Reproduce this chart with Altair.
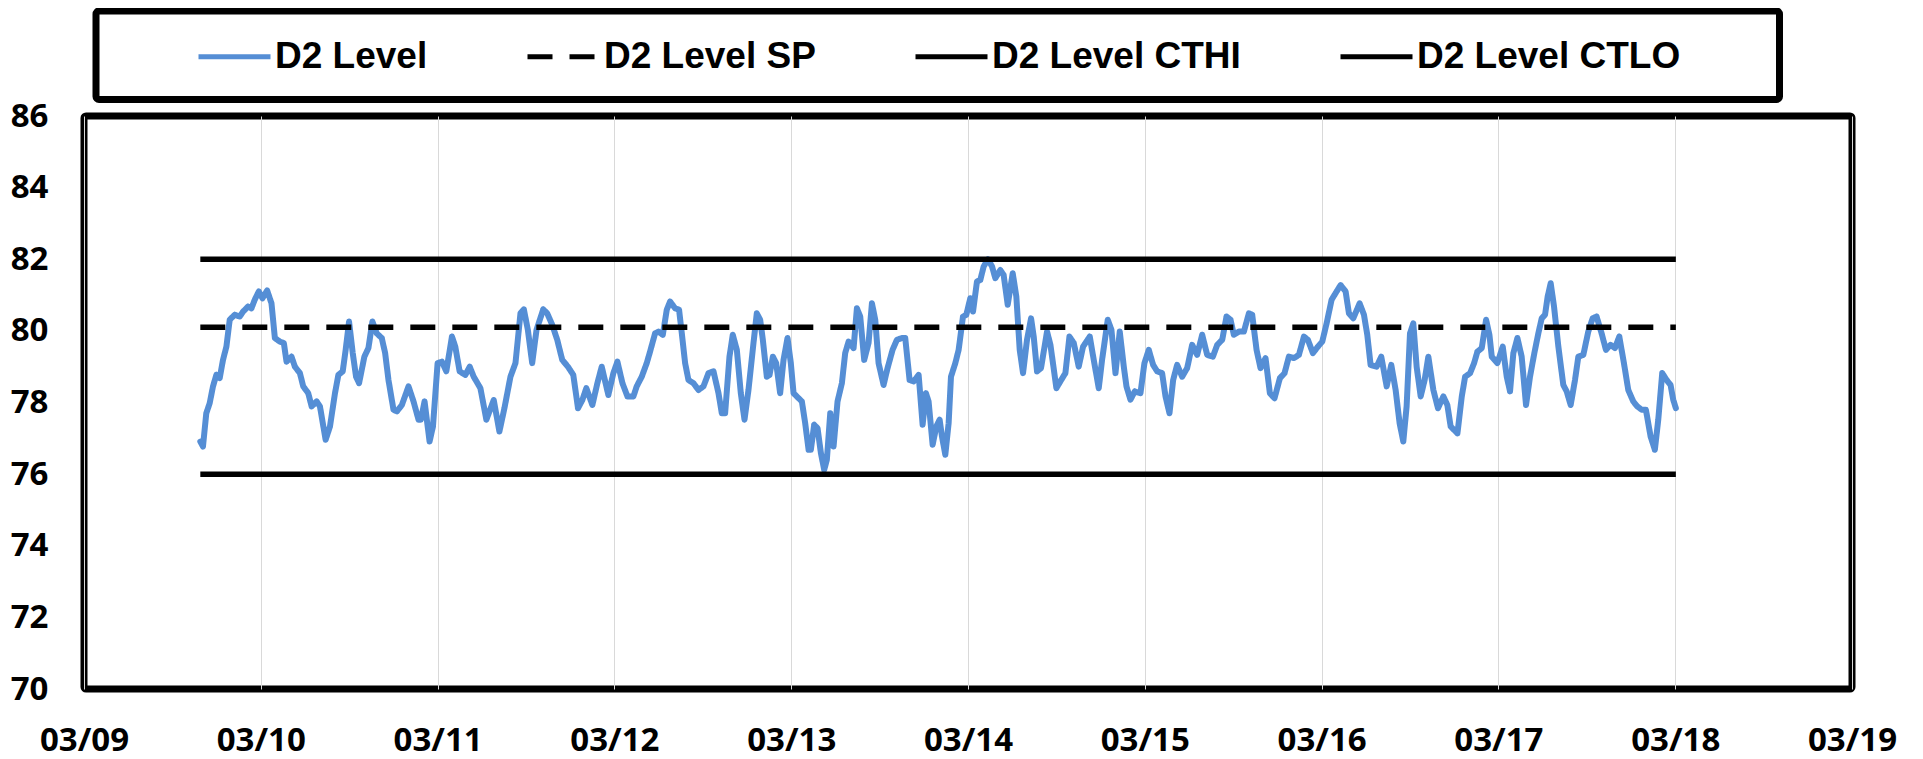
import altair as alt
import pandas as pd

# ---- data (hours after 03/09 00:00, level) ----
h_day1 = [15.79, 16.15, 16.60, 17.06, 17.51, 17.97, 18.42, 18.87, 19.33, 19.78, 20.46, 21.14, 21.60,
          22.28, 22.73, 23.18, 23.73, 24.23, 24.86, 25.45, 25.91, 26.59, 27.13, 27.49, 28.17, 28.63,
          29.31, 29.76, 30.44, 30.90, 31.58, 32.03, 32.80, 33.39, 34.07, 34.53, 35.12, 35.52, 35.98,
          36.48, 36.93, 37.34, 38.06, 38.61, 39.15, 39.74, 40.42, 40.88, 41.33, 42.01, 42.47, 43.15,
          44.05, 44.73, 45.41, 45.73, 46.23, 46.91, 47.37]
v_day1 = [76.91, 76.77, 77.70, 77.98, 78.45, 78.77, 78.68, 79.19, 79.56, 80.31, 80.45, 80.40, 80.54,
          80.68, 80.63, 80.87, 81.10, 80.91, 81.13, 80.77, 79.80, 79.70, 79.66, 79.14, 79.28, 79.00,
          78.82, 78.45, 78.26, 77.89, 78.03, 77.89, 76.96, 77.33, 78.26, 78.77, 78.87, 79.47, 80.26,
          79.38, 78.72, 78.54, 79.28, 79.52, 80.26, 79.93, 79.80, 79.38, 78.63, 77.80, 77.75, 77.93,
          78.45, 78.03, 77.52, 77.52, 78.03, 76.91, 77.33]

h_day2 = [48.00, 48.59, 49.18, 49.95, 50.40, 50.99, 51.77, 52.36, 52.90, 53.81, 54.62, 55.62, 56.39,
          57.07, 57.89, 58.57, 59.25, 59.71, 60.25, 60.84, 61.43, 62.34, 62.88, 63.56, 64.24, 64.92,
          65.69, 66.42, 67.06, 67.65, 68.19, 69.01, 69.69, 70.28, 71.18, 71.86, 72.41, 73.09, 73.77]
v_day2 = [79.10, 79.14, 78.87, 79.84, 79.56, 78.87, 78.77, 79.00, 78.72, 78.40, 77.52, 78.07, 77.19,
          77.84, 78.72, 79.10, 80.49, 80.60, 80.03, 79.10, 80.03, 80.60, 80.49, 80.17, 79.75, 79.19,
          79.00, 78.77, 77.84, 78.07, 78.40, 77.93, 78.54, 79.00, 78.21, 78.82, 79.14, 78.54, 78.17]

h_day3 = [74.58, 75.03, 75.71, 76.39, 76.84, 77.52, 77.98, 78.57, 79.11, 79.56, 80.24, 80.78, 81.15,
          81.60, 82.05, 82.73, 83.41, 84.09, 84.77, 85.45, 86.13, 86.58, 87.03, 87.62, 88.07, 88.62,
          89.16, 89.66, 90.20, 90.88, 91.33, 91.79, 92.15, 92.69, 93.06, 93.51, 93.96, 94.50, 94.96,
          95.50, 95.95, 96.32, 97.00, 97.45, 97.90, 98.36, 98.67, 99.12, 99.58, 100.03, 100.48,
          100.84, 101.30, 101.75, 102.29, 102.88, 103.33, 103.79, 104.47, 104.92, 105.37, 105.91,
          106.50, 106.96, 107.41, 107.86, 108.54, 109.08, 109.76, 110.35, 111.03, 111.48, 112.07,
          112.62, 113.30, 113.84, 114.29, 114.65, 115.20, 115.70, 116.15, 116.47, 116.92, 117.37,
          117.69, 118.28, 118.73, 119.32, 119.77]
v_day3 = [78.17, 78.45, 78.72, 79.10, 79.42, 79.93, 79.98, 79.89, 80.59, 80.82, 80.63, 80.59, 79.93,
          79.10, 78.63, 78.54, 78.35, 78.45, 78.82, 78.87, 78.26, 77.70, 77.70, 79.28, 79.89, 79.47,
          78.26, 77.52, 78.35, 79.66, 80.49, 80.31, 79.75, 78.72, 78.77, 79.28, 79.10, 78.26, 79.19,
          79.80, 79.10, 78.26, 78.12, 78.03, 77.42, 76.68, 76.68, 77.38, 77.28, 76.59, 76.12,
          76.40, 77.70, 76.77, 78.03, 78.54, 79.38, 79.70, 79.52, 80.63, 80.40, 79.19,
          79.66, 80.77, 80.31, 79.10, 78.49, 78.96, 79.47, 79.75, 79.80, 79.80, 78.63,
          78.59, 78.77, 77.38, 78.26, 78.03, 76.82, 77.33, 77.52, 77.05, 76.54, 77.42,
          78.72, 79.10, 79.47, 80.40, 80.45]

h_day4 = [120.31, 120.68, 121.22, 121.67, 122.13, 122.71, 123.26, 123.71, 124.39, 124.84, 125.39,
          126.07, 126.56, 127.02, 127.47, 128.01, 128.56, 128.92, 129.37, 129.91, 130.73, 131.19,
          132.00, 132.54, 133.22, 133.77, 134.36, 135.03, 135.62, 136.53, 137.07, 137.75, 138.20,
          138.97, 139.47, 140.02, 140.60, 141.15, 141.51, 142.05, 142.64, 143.41, 143.95]
v_day4 = [80.91, 80.54, 81.38, 81.42, 81.80, 82.00, 81.80, 81.47, 81.70, 81.56, 80.73,
          81.61, 80.96, 79.47, 78.82, 79.75, 80.35, 79.84, 78.87, 78.96, 79.98, 79.61,
          78.40, 78.59, 78.82, 79.84, 79.66, 79.00, 79.56, 79.84, 79.19, 78.40, 79.19,
          80.31, 80.03, 78.82, 79.98, 79.00, 78.45, 78.08, 78.31, 78.26, 79.10]

h_day5 = [144.54, 145.13, 145.68, 146.35, 146.81, 147.35, 147.85, 148.39, 149.07, 149.75, 150.43,
          151.11, 151.79, 152.47, 153.24, 153.83, 154.51, 155.09, 155.64, 156.09, 156.77, 157.45,
          158.13, 158.58, 159.17, 159.71, 160.39, 160.98, 161.61, 162.34, 162.97, 163.56, 164.24,
          164.92, 165.60, 166.14, 166.82, 167.50, 168.09, 168.68, 169.36, 170.04, 170.58, 171.26,
          171.71, 172.30, 173.16, 173.75, 174.20, 174.65, 175.47, 176.10, 176.83, 177.46, 178.05,
          178.59, 179.09, 179.54, 180.00, 180.45, 180.90, 181.45, 181.99, 182.49, 183.17, 183.80,
          184.53, 185.07, 185.52]
v_day5 = [79.47, 79.05, 78.87, 78.82, 78.17, 77.70, 78.63, 79.05, 78.72, 78.96, 79.61,
          79.33, 79.89, 79.33, 79.28, 79.61, 79.75, 80.40, 80.31, 79.89, 79.98, 79.98,
          80.49, 80.45, 79.47, 78.96, 79.24, 78.26, 78.12, 78.68, 78.82, 79.28, 79.24,
          79.33, 79.84, 79.75, 79.38, 79.56, 79.70, 80.21, 80.87, 81.10, 81.28, 81.10,
          80.49, 80.35, 80.77, 80.45, 79.89, 79.05, 79.00, 79.28, 78.45, 79.05, 78.35,
          77.42, 76.91, 77.89, 79.93, 80.21, 79.00, 78.17, 78.63, 79.28, 78.35, 77.84,
          78.17, 77.93, 77.33]

h_day6 = [186.44, 187.03, 187.48, 188.16, 188.70, 189.15, 189.74, 190.33, 190.78, 191.10, 191.86,
          192.59, 193.13, 193.58, 194.03, 194.58, 195.16, 195.75, 196.29, 196.88, 197.42, 197.88,
          198.33, 198.69, 199.10, 199.55, 200.14, 200.81, 201.27, 201.81, 202.40, 202.85, 203.53,
          204.20, 204.79, 205.33, 206.01, 206.60, 207.23, 207.82, 208.41, 209.04, 209.63, 210.31,
          210.85, 211.44, 212.02, 212.66, 213.24, 213.70, 214.24, 214.83, 215.37, 215.73, 216.09]
v_day6 = [77.14, 78.17, 78.72, 78.82, 79.10, 79.42, 79.52, 80.31, 79.89, 79.28, 79.10,
          79.56, 78.72, 78.31, 79.38, 79.80, 79.28, 77.93, 78.72, 79.38, 79.93, 80.35,
          80.45, 80.96, 81.33, 80.68, 79.56, 78.49, 78.31, 77.93, 78.63, 79.28, 79.33,
          79.98, 80.35, 80.40, 79.93, 79.47, 79.61, 79.52, 79.84, 79.10, 78.35, 78.03,
          77.89, 77.80, 77.80, 77.05, 76.68, 77.52, 78.82, 78.63, 78.49, 78.08, 77.84]

SP = 80.1
CTHI = 82.0
CTLO = 76.0

series_names = ["D2 Level", "D2 Level SP", "D2 Level CTHI", "D2 Level CTLO"]
series_colors = ["#558ED5", "#000000", "#000000", "#000000"]
series_dash = [[1, 0], [25, 17], [1, 0], [1, 0]]
y_ticks = [70, 72, 74, 76, 78, 80, 82, 84, 86]
day_ticks = list(range(9, 20))

# ---- tables ----
base = pd.Timestamp("2019-03-09 00:00:00")
hours = h_day1 + h_day2 + h_day3 + h_day4 + h_day5 + h_day6
vals = v_day1 + v_day2 + v_day3 + v_day4 + v_day5 + v_day6
times = base + pd.to_timedelta(hours, unit="h")
fmt = "%Y-%m-%dT%H:%M:%SZ"
level = pd.DataFrame({"time": times.strftime(fmt), "value": vals, "series": "D2 Level"})

t0, t1 = times.min().strftime(fmt), times.max().strftime(fmt)
lim_rows = []
for name, v in [("D2 Level SP", SP), ("D2 Level CTHI", CTHI), ("D2 Level CTLO", CTLO)]:
    lim_rows.append({"time": t0, "value": v, "series": name})
    lim_rows.append({"time": t1, "value": v, "series": name})
limits = pd.DataFrame(lim_rows)

def dt(d):
    return alt.DateTime(year=2019, month=3, date=d, utc=True)

legend_kw = dict(
    title=None, orient="none", legendX=112, legendY=-98, direction="horizontal",
    symbolType="stroke", symbolSize=5184, symbolStrokeWidth=5, columnPadding=89,
    labelFont="Liberation Sans", labelFontSize=37, labelFontWeight="bold",
    labelColor="black", labelLimit=600, labelOffset=2, padding=0,
)

x_enc = alt.X(
    "time:T",
    scale=alt.Scale(type="utc", domain=[dt(9), dt(19)]),
    axis=alt.Axis(
        title=None, values=[dt(d) for d in day_ticks],
        labelExpr="utcFormat(datum.value, '%m/%d')",
        grid=True, gridColor="#d9d9d9", gridWidth=1, domain=False, ticks=False, tickSize=0,
        labelFont="Open Sans", labelFontSize=33, labelFontWeight="bold", labelColor="black",
        labelPadding=35, labelFlush=False,
    ),
)
y_enc = alt.Y(
    "value:Q",
    scale=alt.Scale(domain=[70, 86], nice=False, zero=False),
    axis=alt.Axis(
        title=None, values=y_ticks, grid=False, domain=False, ticks=False, tickSize=0,
        labelFont="Open Sans", labelFontSize=33, labelFontWeight="bold", labelColor="black",
        labelPadding=36,
    ),
)
color_enc = alt.Color(
    "series:N",
    scale=alt.Scale(domain=series_names, range=series_colors),
    legend=alt.Legend(**legend_kw),
)
dash_enc = alt.StrokeDash(
    "series:N",
    scale=alt.Scale(domain=series_names, range=series_dash),
    legend=alt.Legend(**legend_kw),
)

line_level = alt.Chart(level).mark_line(
    strokeWidth=6, strokeCap="round", strokeJoin="round"
).encode(x=x_enc, y=y_enc, color=color_enc, strokeDash=dash_enc)

line_limits = alt.Chart(limits).mark_line(
    strokeWidth=5.5, strokeCap="butt"
).encode(x=x_enc, y=y_enc, color=color_enc, strokeDash=dash_enc)

legend_box = alt.Chart(alt.Data(values=[{"k": 1}])).mark_rect(
    fillOpacity=0, stroke="black", strokeWidth=7, cornerRadius=3
).encode(
    x=alt.value(12), x2=alt.value(1695.5), y=alt.value(-105), y2=alt.value(-16.5)
)

chart = alt.layer(line_level, line_limits, legend_box).properties(
    width=1768, height=573,
    background="white",
    autosize=alt.AutoSizeParams(type="none"),
    padding={"left": 76, "top": 108, "right": 60, "bottom": 74},
).configure_view(
    stroke="black", strokeWidth=7, cornerRadius=2
)

chart.save("out.html", embed_options={"renderer": "svg", "actions": False})
